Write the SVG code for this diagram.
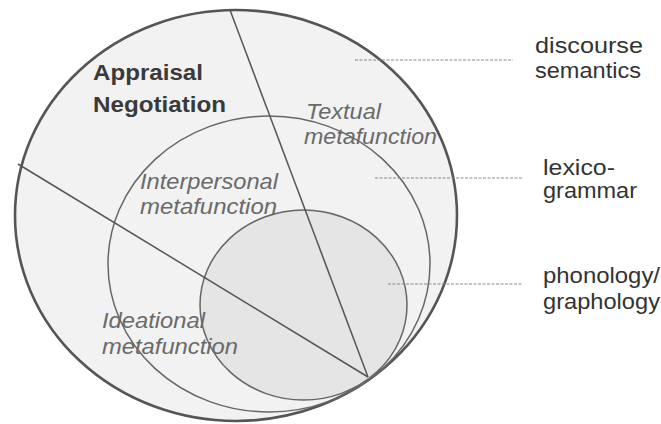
<svg xmlns="http://www.w3.org/2000/svg" width="661" height="424" viewBox="0 0 661 424">
  <style>
    .outer { fill: #f2f2f2; stroke: #555; stroke-width: 2.6; }
    .ring { fill: none; stroke: #666; stroke-width: 1.5; }
    .core { fill: #e5e5e5; stroke: #666; stroke-width: 1.5; }
    .divider { stroke: #555; stroke-width: 1.5; fill: none; }
    .leader { stroke: #888; stroke-width: 1; stroke-dasharray: 3 1.5; fill: none; }
    .strata { font-family: "Liberation Sans", Arial, sans-serif; font-size: 22px; fill: #333; }
    .systems { font-family: "Liberation Sans", Arial, sans-serif; font-size: 22px; font-weight: bold; fill: #3a3a3a; }
    .meta { font-family: "Liberation Sans", Arial, sans-serif; font-size: 22px; font-style: italic; fill: #6a6a6a; }
  </style>

  <!-- nested strata -->
  <g id="discourse-semantics">
    <ellipse class="outer" cx="236" cy="215.5" rx="221" ry="205.5"/>
  </g>
  <g id="lexicogrammar">
    <ellipse class="ring" cx="269" cy="264" rx="161" ry="148"/>
  </g>
  <g id="phonology-graphology">
    <ellipse class="core" cx="303.5" cy="305" rx="103.5" ry="95"/>
  </g>

  <!-- metafunction dividers and stratum leaders -->
  <g id="connectors">
    <line class="divider" x1="230" y1="10" x2="368" y2="377"/>
    <line class="divider" x1="18" y1="164" x2="368" y2="377"/>
    <line class="leader" x1="355" y1="60" x2="513" y2="60"/>
    <line class="leader" x1="375" y1="178" x2="522" y2="178"/>
    <line class="leader" x1="388" y1="284" x2="522" y2="284"/>
  </g>

  <g id="systems-label">
    <text class="systems" x="93" y="80" textLength="110" lengthAdjust="spacingAndGlyphs">Appraisal</text>
    <text class="systems" x="93" y="112" textLength="133" lengthAdjust="spacingAndGlyphs">Negotiation</text>
  </g>

  <g id="textual">
    <text class="meta" x="306" y="119" textLength="75" lengthAdjust="spacingAndGlyphs">Textual</text>
    <text class="meta" x="304" y="144" textLength="133" lengthAdjust="spacingAndGlyphs">metafunction</text>
  </g>
  <g id="interpersonal">
    <text class="meta" x="140" y="189" textLength="138" lengthAdjust="spacingAndGlyphs">Interpersonal</text>
    <text class="meta" x="140" y="214" textLength="137" lengthAdjust="spacingAndGlyphs">metafunction</text>
  </g>
  <g id="ideational">
    <text class="meta" x="102" y="328" textLength="103" lengthAdjust="spacingAndGlyphs">Ideational</text>
    <text class="meta" x="102" y="354" textLength="136" lengthAdjust="spacingAndGlyphs">metafunction</text>
  </g>

  <g id="label-discourse">
    <text class="strata" x="535" y="53" textLength="108" lengthAdjust="spacingAndGlyphs">discourse</text>
    <text class="strata" x="535" y="78" textLength="106" lengthAdjust="spacingAndGlyphs">semantics</text>
  </g>
  <g id="label-lexicogrammar">
    <text class="strata" x="543" y="175" textLength="72" lengthAdjust="spacingAndGlyphs">lexico-</text>
    <text class="strata" x="543" y="198" textLength="94" lengthAdjust="spacingAndGlyphs">grammar</text>
  </g>
  <g id="label-phonology">
    <text class="strata" x="543" y="283" textLength="117" lengthAdjust="spacingAndGlyphs">phonology/</text>
    <text class="strata" x="543" y="309" textLength="117" lengthAdjust="spacingAndGlyphs">graphology</text>
  </g>
</svg>
